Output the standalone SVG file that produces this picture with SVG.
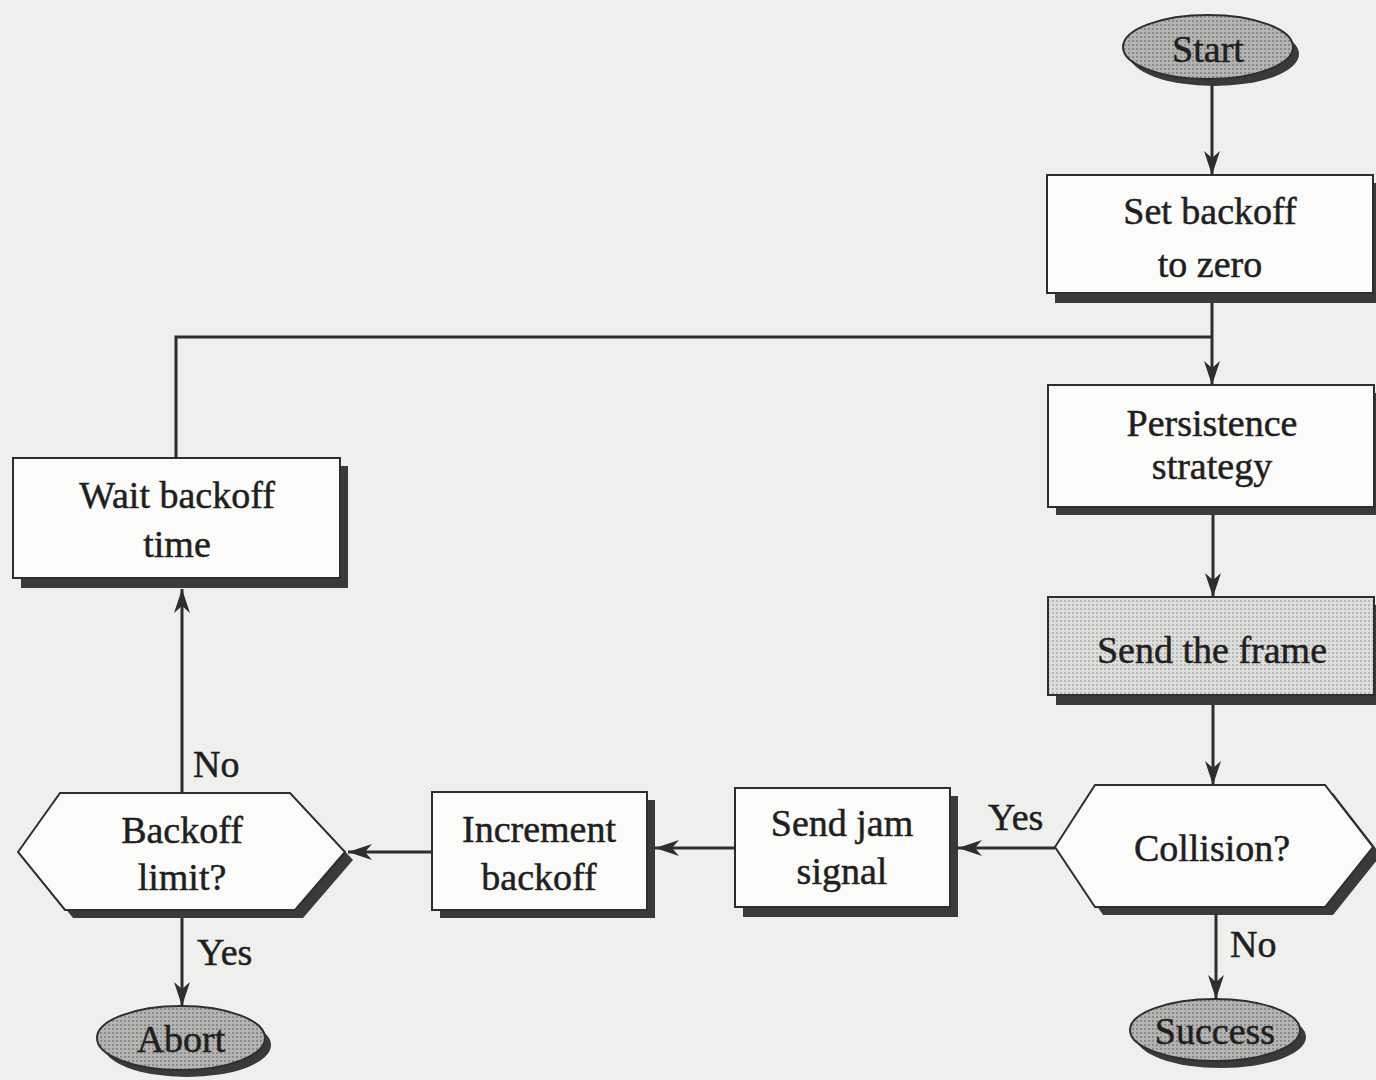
<svg xmlns="http://www.w3.org/2000/svg" width="1376" height="1080" viewBox="0 0 1376 1080">
  <defs>
    <style>
      .box { fill: #fbfbf9; stroke: #2e2e2e; stroke-width: 2; }
      .shadow { fill: #3a3a3a; }
      .term { fill: url(#stippleDark); stroke: #2e2e2e; stroke-width: 2; }
      .hl { fill: url(#stippleLight); stroke: #2e2e2e; stroke-width: 2; }
      .lbl { font-family: "Liberation Serif", "Times New Roman", serif; font-size: 38px; fill: #1f1f1f; stroke: #1f1f1f; stroke-width: 0.5; text-anchor: middle; }
      .tag { font-family: "Liberation Serif", "Times New Roman", serif; font-size: 38px; fill: #1f1f1f; stroke: #1f1f1f; stroke-width: 0.5; }
      .wire { fill: none; stroke: #2e2e2e; stroke-width: 3; }
    </style>
    <pattern id="stippleDark" width="4" height="4" patternUnits="userSpaceOnUse">
      <rect width="4" height="4" fill="#b4b4b2"/>
      <rect width="2" height="2" fill="#8a8a88"/>
    </pattern>
    <pattern id="stippleLight" width="4" height="4" patternUnits="userSpaceOnUse">
      <rect width="4" height="4" fill="#dededc"/>
      <rect width="2" height="2" fill="#b8b8b6"/>
    </pattern>
    <marker id="arrow" viewBox="0 0 24 16" refX="24" refY="8" markerWidth="24" markerHeight="16" markerUnits="userSpaceOnUse" orient="auto">
      <path d="M0,0 L24,8 L0,16 L7,8 z" fill="#2e2e2e"/>
    </marker>
  </defs>

  <!-- page background -->
  <rect width="1376" height="1080" fill="#efefed"/>

  <!-- connectors -->
  <g id="connectors">
    <path class="wire" d="M1212,82 V175" marker-end="url(#arrow)"/>
    <path class="wire" d="M176,458 V337 H1212"/>
    <path class="wire" d="M1212,303 V385" marker-end="url(#arrow)"/>
    <path class="wire" d="M1213,515 V597" marker-end="url(#arrow)"/>
    <path class="wire" d="M1213,705 V785" marker-end="url(#arrow)"/>
    <path class="wire" d="M1216,915 V999" marker-end="url(#arrow)"/>
    <path class="wire" d="M1055,848 H958" marker-end="url(#arrow)"/>
    <path class="wire" d="M735,848 H655" marker-end="url(#arrow)"/>
    <path class="wire" d="M432,852 H348" marker-end="url(#arrow)"/>
    <path class="wire" d="M182,918 V1006" marker-end="url(#arrow)"/>
    <path class="wire" d="M182,793 V589" marker-end="url(#arrow)"/>
    <text class="tag" x="988" y="830">Yes</text>
    <text class="tag" x="1230" y="957">No</text>
    <text class="tag" x="197" y="965">Yes</text>
    <text class="tag" x="193" y="777">No</text>
  </g>

  <!-- Start terminal -->
  <g id="start">
    <ellipse class="shadow" cx="1214" cy="54" rx="85" ry="32"/>
    <ellipse class="term" cx="1208" cy="47" rx="85" ry="32"/>
    <text class="lbl" x="1208" y="62">Start</text>
  </g>

  <!-- Set backoff to zero -->
  <g id="set-backoff">
    <rect class="shadow" x="1055" y="183" width="326" height="120"/>
    <rect class="box" x="1047" y="175" width="326" height="118"/>
    <text class="lbl" x="1210" y="224">Set backoff</text>
    <text class="lbl" x="1210" y="277">to zero</text>
  </g>

  <!-- Persistence strategy -->
  <g id="persistence">
    <rect class="shadow" x="1056" y="393" width="326" height="122"/>
    <rect class="box" x="1048" y="385" width="326" height="122"/>
    <text class="lbl" x="1212" y="436">Persistence</text>
    <text class="lbl" x="1212" y="479">strategy</text>
  </g>

  <!-- Send the frame -->
  <g id="send-frame">
    <rect class="shadow" x="1056" y="605" width="326" height="100"/>
    <rect class="hl" x="1048" y="597" width="326" height="98"/>
    <text class="lbl" x="1212" y="663">Send the frame</text>
  </g>

  <!-- Collision? decision -->
  <g id="collision">
    <polygon class="shadow" points="1063,855 1103,793 1333,793 1381,855 1333,915 1103,915"/>
    <polygon class="box" points="1055,847 1095,785 1325,785 1373,847 1325,907 1095,907"/>
    <text class="lbl" x="1212" y="861">Collision?</text>
  </g>

  <!-- Success terminal -->
  <g id="success">
    <ellipse class="shadow" cx="1221" cy="1037" rx="85" ry="31"/>
    <ellipse class="term" cx="1215" cy="1030" rx="85" ry="31"/>
    <text class="lbl" x="1215" y="1044">Success</text>
  </g>

  <!-- Send jam signal -->
  <g id="send-jam">
    <rect class="shadow" x="743" y="796" width="215" height="121"/>
    <rect class="box" x="735" y="788" width="215" height="119"/>
    <text class="lbl" x="842" y="836">Send jam</text>
    <text class="lbl" x="842" y="884">signal</text>
  </g>

  <!-- Increment backoff -->
  <g id="increment">
    <rect class="shadow" x="440" y="800" width="215" height="118"/>
    <rect class="box" x="432" y="792" width="215" height="118"/>
    <text class="lbl" x="539" y="842">Increment</text>
    <text class="lbl" x="539" y="890">backoff</text>
  </g>

  <!-- Backoff limit? decision -->
  <g id="backoff-limit">
    <polygon class="shadow" points="26,860 68,801 298,801 353,860 303,918 73,918"/>
    <polygon class="box" points="18,852 60,793 290,793 345,852 295,910 65,910"/>
    <text class="lbl" x="182" y="843">Backoff</text>
    <text class="lbl" x="182" y="890">limit?</text>
  </g>

  <!-- Abort terminal -->
  <g id="abort">
    <ellipse class="shadow" cx="187" cy="1045" rx="84" ry="32"/>
    <ellipse class="term" cx="181" cy="1038" rx="84" ry="32"/>
    <text class="lbl" x="181" y="1052">Abort</text>
  </g>

  <!-- Wait backoff time -->
  <g id="wait-backoff">
    <rect class="shadow" x="21" y="466" width="327" height="122"/>
    <rect class="box" x="13" y="458" width="327" height="120"/>
    <text class="lbl" x="177" y="508">Wait backoff</text>
    <text class="lbl" x="177" y="557">time</text>
  </g>
</svg>
